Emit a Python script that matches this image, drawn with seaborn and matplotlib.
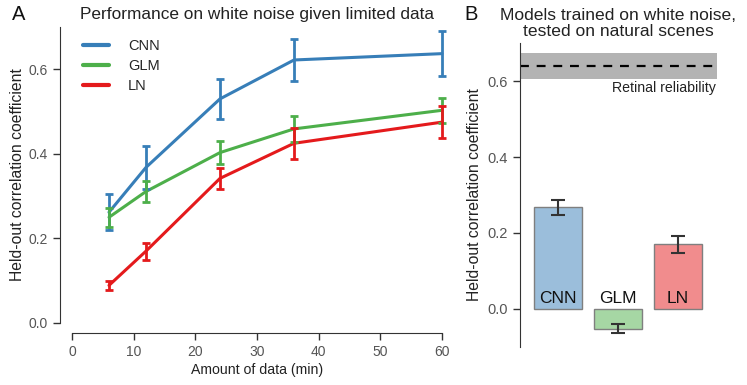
import numpy as np
import pandas as pd
import matplotlib
matplotlib.use("Agg")
import matplotlib.pyplot as plt
import seaborn as sns

# ---- data ----
minutes = [6, 12, 24, 36, 60]
models = ["CNN", "GLM", "LN"]
cnn_mean = [0.262, 0.368, 0.530, 0.622, 0.637]
cnn_err = [0.043, 0.050, 0.047, 0.050, 0.053]
glm_mean = [0.250, 0.311, 0.403, 0.459, 0.503]
glm_err = [0.022, 0.025, 0.027, 0.030, 0.030]
ln_mean = [0.089, 0.170, 0.342, 0.425, 0.475]
ln_err = [0.010, 0.020, 0.025, 0.037, 0.038]

nat_mean = [0.268, -0.053, 0.170]
nat_err = [0.020, 0.012, 0.022]
reliability = 0.640
reliability_err = 0.034

xticks_a = [0, 10, 20, 30, 40, 50, 60]
yticks_a = [0.0, 0.2, 0.4, 0.6]
yticks_b = [0.0, 0.2, 0.4, 0.6]

colors = {"CNN": "#377eb8", "GLM": "#4daf4a", "LN": "#e41a1c"}
bar_colors = {"CNN": "#9bbedb", "GLM": "#a6d7a4", "LN": "#f18c8d"}

sns.set_style("ticks")
plt.rcParams["font.family"] = ["Liberation Sans", "DejaVu Sans"]
plt.rcParams["axes.edgecolor"] = "#333333"
plt.rcParams["xtick.color"] = "#333333"
plt.rcParams["ytick.color"] = "#333333"
plt.rcParams["xtick.labelcolor"] = "#555555"
plt.rcParams["ytick.labelcolor"] = "#555555"

fig = plt.figure(figsize=(7.47, 3.85), dpi=100)
W, H = 747, 385

def frac(x0, x1, ytop, ybot):
    return [x0 / W, 1 - ybot / H, (x1 - x0) / W, (ybot - ytop) / H]

# ---- Panel A ----
axA = fig.add_axes(frac(72, 442, 27, 323))
df = pd.DataFrame({
    "minutes": minutes * 3,
    "value": cnn_mean + glm_mean + ln_mean,
    "err": cnn_err + glm_err + ln_err,
    "model": ["CNN"] * 5 + ["GLM"] * 5 + ["LN"] * 5,
})
sns.lineplot(data=df, x="minutes", y="value", hue="model", palette=colors,
             linewidth=2.2, ax=axA, legend=True)
for ln in axA.get_lines():
    ln.set_clip_on(False)
for m in models:
    sub = df[df.model == m]
    eb = axA.errorbar(sub["minutes"], sub["value"], yerr=sub["err"], fmt="none",
                      ecolor=colors[m], elinewidth=2, capsize=3, capthick=2)
    for art in eb.lines[1]:
        art.set_clip_on(False)
    for art in eb.lines[2]:
        art.set_clip_on(False)
axA.set_xlim(0, 60)
axA.set_ylim(0, 0.7)
axA.set_xticks(xticks_a)
axA.set_yticks(yticks_a)
axA.set_xticklabels([str(t) for t in xticks_a], fontsize=10.5)
axA.set_yticklabels([f"{t:.1f}" for t in yticks_a], fontsize=10.5)
axA.set_xlabel("Amount of data (min)", fontsize=10.2, color="#222222", labelpad=3)
axA.set_ylabel("Held-out correlation coefficient", fontsize=11.3, color="#222222", labelpad=2.5)
axA.set_title("Performance on white noise given limited data", fontsize=12.4, color="#222222", pad=6)
sns.despine(ax=axA, offset={"left": 9, "bottom": 7})
axA.spines["left"].set_bounds(0, 0.7)
axA.spines["bottom"].set_bounds(0, 60)
leg = axA.legend(loc="upper left", frameon=False, fontsize=10.5, handlelength=1.75,
                 handletextpad=1.3, labelspacing=0.42, bbox_to_anchor=(-0.005, 1.005))
for line in leg.get_lines():
    line.set_linewidth(3)
axA.tick_params(length=5, width=1)

# ---- Panel B ----
axB = fig.add_axes(frac(520, 717, 43.3, 346.7))
dfb = pd.DataFrame({"model": models, "value": nat_mean, "err": nat_err})
sns.barplot(data=dfb, x="model", y="value", hue="model", palette=bar_colors,
            saturation=1, edgecolor="#7f7f7f", linewidth=1.0, width=0.8, ax=axB,
            legend=False, errorbar=None)
axB.errorbar(np.arange(len(models)), dfb["value"], yerr=dfb["err"], fmt="none",
             ecolor="#333333", elinewidth=1.5, capsize=5, capthick=1.5)
axB.axhspan(reliability - reliability_err, reliability + reliability_err,
            color="#b3b3b3", lw=0, zorder=0)
axB.axhline(reliability, color="black", ls=(0, (4, 3.5)), lw=1.6)
axB.text(2.63, 0.582, "Retinal reliability", ha="right", va="center", fontsize=10.2, color="#222222")
for i, m in enumerate(models):
    axB.text(i, 0.008, m, ha="center", va="bottom", fontsize=12.5, color="#111111")
axB.set_xlim(-0.64, 2.65)
axB.set_ylim(-0.1, 0.7)
axB.set_yticks(yticks_b)
axB.set_yticklabels([f"{t:.1f}" for t in yticks_b], fontsize=10.5)
axB.set_xticks([])
axB.set_xlabel("")
axB.set_ylabel("Held-out correlation coefficient", fontsize=11.3, color="#222222", labelpad=4)
axB.set_title("Models trained on white noise,\ntested on natural scenes", fontsize=12.6,
              color="#222222", pad=5, linespacing=1.1)
sns.despine(ax=axB, bottom=True)
axB.tick_params(length=5, width=1)

fig.text(12 / W, 1 - 15 / H, "A", fontsize=14.5, ha="left", va="center", color="#111111")
fig.text(464 / W, 1 - 15 / H, "B", fontsize=14.5, ha="left", va="center", color="#111111")

fig.savefig("out.png", dpi=100)
